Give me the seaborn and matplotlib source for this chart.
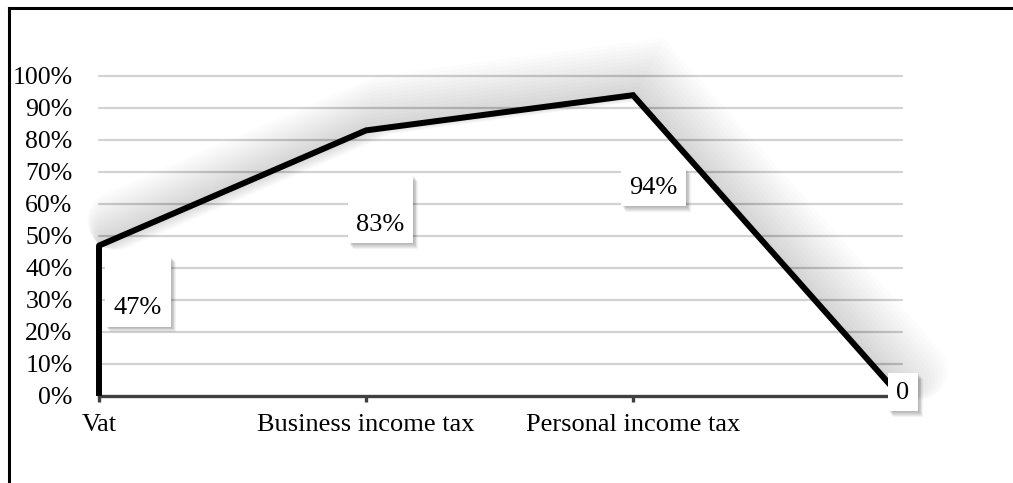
import numpy as np
import pandas as pd
import matplotlib
matplotlib.use("Agg")
import matplotlib.pyplot as plt
import matplotlib.transforms as mtransforms
import matplotlib.patheffects as pe
from matplotlib.patches import Rectangle
from matplotlib.lines import Line2D
import seaborn as sns

# ---- data ----
categories = ["Vat", "Business income tax", "Personal income tax", ""]
values = [0.47, 0.83, 0.94, 0.0]
value_labels = ["47%", "83%", "94%", "0"]
y_ticks = [0.0, 0.1, 0.2, 0.3, 0.4, 0.5, 0.6, 0.7, 0.8, 0.9, 1.0]
y_tick_labels = ["0%", "10%", "20%", "30%", "40%", "50%", "60%", "70%", "80%", "90%", "100%"]

sns.set_theme(style="white")
plt.rcParams["font.family"] = ["Liberation Serif", "DejaVu Serif"]
FS = 19
FSY = 18.5

W, H = 1013, 483
fig = plt.figure(figsize=(W / 100, H / 100), dpi=100)
ax = fig.add_axes([99 / W, 1 - 396 / H, 801 / W, 320 / H])

df = pd.DataFrame({"pos": np.arange(len(categories)), "value": values})

# gridlines
for yv in y_ticks[1:]:
    ax.axhline(yv, xmin=0, xmax=803 / 801, color="#d2d2d2", lw=1.6, zorder=1, clip_on=False)

# soft shadow layers (up and to the right)
shadow = [pe.SimpleLineShadow(offset=(1.5 + 0.9 * k, 1.5 + 1.3 * k), shadow_color="black",
                              alpha=0.011, linewidth=4 + 3.0 * k) for k in range(14)]
shadow.append(pe.Normal())

sns.lineplot(data=df, x="pos", y="value", ax=ax, color="black", linewidth=4.3,
             sort=False, zorder=4, clip_on=False)
line = ax.get_lines()[-1]
line.set_solid_joinstyle("miter")
line.set_path_effects(shadow)
vl = ax.vlines(df["pos"].iloc[0], 0, df["value"].iloc[0], color="black", lw=4.3, zorder=4)
vl.set_clip_on(False)

ax.set_xlim(0, len(categories) - 1)
ax.set_ylim(0, 1)
ax.set_xticks(df["pos"])
ax.set_xticklabels(categories, fontsize=FS)
ax.set_yticks(y_ticks)
ax.set_yticklabels(y_tick_labels, fontsize=FSY)
ax.set_xlabel("")
ax.set_ylabel("")

for s in ["top", "right", "left"]:
    ax.spines[s].set_visible(False)
ax.spines["bottom"].set_color("#404040")
ax.spines["bottom"].set_linewidth(2.4)
ax.spines["bottom"].set_zorder(3)
ax.tick_params(axis="x", which="both", bottom=True, length=4, width=2.4, color="#404040",
               pad=9, labelcolor="black", direction="out")
ax.tick_params(axis="y", length=0, pad=19, labelcolor="black")

# data label boxes (offsets in pixels relative to the data point)
box_rects = [(6, -81, 66, 70), (-18, -113, 65, 68), (-12, -111, 65, 38), (-12, -15, 30, 38)]
text_offs = [(39, -62), (14, -95), (20, -93), (3, 3)]
for i, (px, py) in enumerate(zip(df["pos"], df["value"])):
    tr = mtransforms.IdentityTransform() + mtransforms.ScaledTranslation(px, py, ax.transData)
    bx, by, bw, bh = box_rects[i]
    for k in range(6):
        ax.add_patch(Rectangle((bx + 1 + k * 0.8, by - 1 - k * 0.9), bw, bh, transform=tr,
                               facecolor="black", edgecolor="none", alpha=0.05,
                               zorder=5, clip_on=False))
    ax.add_patch(Rectangle((bx, by), bw, bh, transform=tr, facecolor="white",
                           edgecolor="none", zorder=6, clip_on=False))
    tx, ty = text_offs[i]
    ax.text(tx, ty, value_labels[i], transform=tr, ha="center", va="center",
            fontsize=FS, color="black", zorder=7)

# outer frame (cropped at right and bottom)
fig.add_artist(Line2D([9 / W, 9 / W], [0, 1 - 8 / H], transform=fig.transFigure,
                      color="black", lw=2.2, solid_capstyle="projecting"))
fig.add_artist(Line2D([9 / W, 1], [1 - 8 / H, 1 - 8 / H], transform=fig.transFigure,
                      color="black", lw=2.2, solid_capstyle="projecting"))

fig.savefig("out.png", dpi=100, facecolor="white")
